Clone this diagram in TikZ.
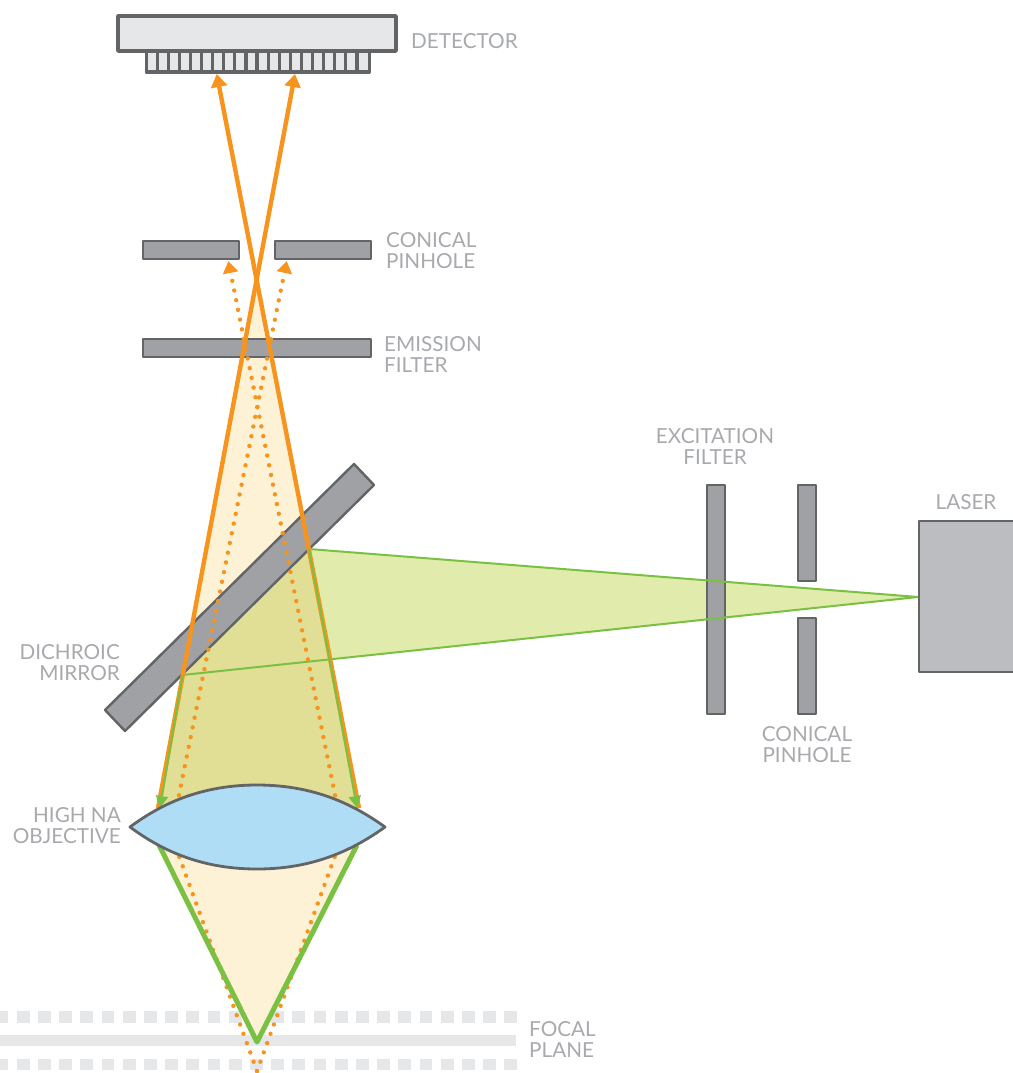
\documentclass[tikz,border=0pt]{standalone}
\definecolor{partGray}{RGB}{160,161,164}
\definecolor{edgeGray}{RGB}{99,100,102}
\definecolor{paleGray}{RGB}{230,231,232}
\definecolor{laserGray}{RGB}{188,189,192}
\definecolor{labelGray}{RGB}{167,169,172}
\definecolor{rayOrange}{RGB}{247,148,30}
\definecolor{rayGreen}{RGB}{122,193,67}
\definecolor{beamCream}{RGB}{253,241,214}
\definecolor{beamGreen}{RGB}{225,235,172}
\definecolor{beamOlive}{RGB}{225,222,150}
\definecolor{lensBlue}{RGB}{174,221,245}
\usepackage{fontspec}
\setmainfont{Lato}
\usepackage{tikz}
\usetikzlibrary{arrows.meta}
\tikzset{
  part/.style={draw=edgeGray,fill=partGray,line width=2.4pt,line join=round},
  caption/.style={font=\fontsize{20.7}{21}\selectfont,text=labelGray,inner sep=0pt,align=left,anchor=west},
  captionr/.style={caption,align=right,anchor=east},
  captionc/.style={caption,align=center,anchor=center},
  solidray/.style={draw=rayOrange,line width=4.4pt,-{Triangle[length=13pt,width=16pt]}},
  dotray/.style={draw=rayOrange,line width=4.4pt,line cap=round,dash pattern=on 0pt off 9.9pt},
  tipray/.style={dotray,-{Triangle[length=12pt,width=15pt]}},
  greenedge/.style={draw=rayGreen,line width=2pt},
  greenray/.style={greenedge,-{Triangle[length=12pt,width=12pt]}},
  plane/.style={fill=paleGray}
}
\begin{document}
\begin{tikzpicture}[x=1pt,y=-1pt]
  \useasboundingbox (0,0) rectangle (1012,1073);
  % focal plane
  \fill[plane] (0,1034.5) rectangle (516,1046);
  \foreach \i in {0,...,24} {
    \fill[plane] ({-4.5+21.2*\i},1011) rectangle ({8.3+21.2*\i},1022.5);
    \fill[plane] ({-4.5+21.2*\i},1058.5) rectangle ({8.3+21.2*\i},1070);
  }
  % light cones
  \coordinate (lensL) at (158,808);
  \coordinate (lensR) at (359,808);
  \coordinate (mirrorL) at (182.5,675);
  \coordinate (mirrorR) at (309,549);
  \coordinate (source) at (918,597);
  \coordinate (focus) at (257,1042);
  \coordinate (waist) at (257,280);
  \fill[beamCream] (waist) -- (lensR) -- (lensL) -- cycle;
  \fill[beamCream] (159,845) -- (357,845) -- (focus) -- cycle;
  \fill[beamGreen] (mirrorR) -- (source) -- (mirrorL) -- cycle;
  \fill[beamOlive] (mirrorL) -- (mirrorR) -- (lensR) -- (lensL) -- cycle;
  % parts
  \draw[part] (354,464) -- (374,485) -- (125,731) -- (105,710) -- cycle;
  \draw[part] (143,339) rectangle (371,357);
  \draw[part] (143,241) rectangle (239,259);
  \draw[part] (275,241) rectangle (371,259);
  \draw[part] (707,485) rectangle (725,714);
  \draw[part] (798,485) rectangle (816,581);
  \draw[part] (798,618) rectangle (816,714);
  \draw[draw=edgeGray,fill=laserGray,line width=2.6pt,line join=round] (1020,521) -- (919,521) -- (919,672) -- (1020,672);
  \draw[greenedge] (mirrorR) -- (source) -- (mirrorL);
  % detector
  \draw[draw=edgeGray,fill=paleGray,line width=3pt,line join=round] (146,52) rectangle (369,72);
  \foreach \i in {1,...,19}
    \draw[edgeGray,line width=3.2pt] ({146+11.1*\i},52) -- ({146+11.1*\i},72);
  \draw[draw=edgeGray,fill=paleGray,line width=3.6pt,line join=round] (118,16) rectangle (396,51);
  % rays
  \draw[solidray] (lensL) -- (295,74);
  \draw[solidray] (lensR) -- (216.7,74);
  \draw[tipray] (337,805) -- (228.3,261);
  \draw[tipray] (177,805) -- (286.7,261);
  \draw[dotray] (257,1071) -- (175,845);
  \draw[dotray] (257,1071) -- (339,845);
  \draw[greenray] (mirrorL) -- (160,808);
  \draw[greenray] (mirrorR) -- (357,808);
  \draw[draw=rayGreen,line width=5pt,line join=round] (159,845) -- (focus) -- (357,845);
  % lens
  \draw[draw=edgeGray,fill=lensBlue,line width=2.8pt,line join=round]
    (130,827) .. controls (165,801) and (205,785) .. (257,785)
    .. controls (309,785) and (349,801) .. (385,827)
    .. controls (349,853) and (309,869) .. (257,869)
    .. controls (205,869) and (165,853) .. (130,827) -- cycle;
  % labels
  \node[caption] (detectorLabel) at (411,41) {DETECTOR};
  \node[caption] (pinholeLabel) at (386,251) {CONICAL\\PINHOLE};
  \node[caption] (emissionLabel) at (384,354) {EMISSION\\FILTER};
  \node[captionc] (excitationLabel) at (715,446) {EXCITATION\\FILTER};
  \node[captionc] (laserLabel) at (966,502) {LASER};
  \node[captionc] (pinholeLabelB) at (807,745) {CONICAL\\PINHOLE};
  \node[captionr] (mirrorLabel) at (120,663) {DICHROIC\\MIRROR};
  \node[captionr] (objectiveLabel) at (121,826) {HIGH NA\\OBJECTIVE};
  \node[caption] (focalLabel) at (529,1039) {FOCAL\\PLANE};
\end{tikzpicture}
\end{document}
